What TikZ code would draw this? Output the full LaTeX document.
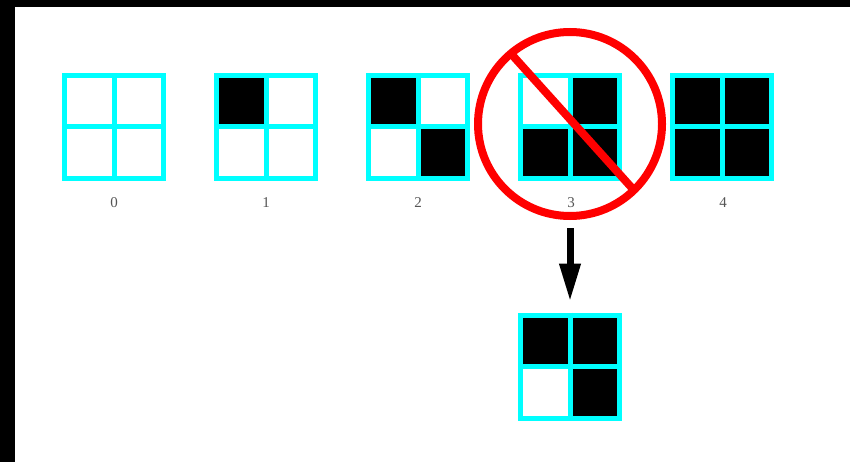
\documentclass[tikz,border=0pt]{standalone}
\usepackage{fontspec}
\setmainfont{Liberation Serif}
\usetikzlibrary{arrows.meta}
\definecolor{gridcyan}{HTML}{00FFFF}
\definecolor{lblgray}{HTML}{555555}
\tikzset{
  frame/.style={draw=gridcyan, line width=5pt, minimum width=99pt, minimum height=103pt, inner sep=0pt},
  midline/.style={draw=gridcyan, line width=5pt},
  cellfill/.style={fill=black},
  lbl/.style={text=lblgray, font=\fontsize{15}{15}\selectfont, inner sep=0pt},
  nosign/.style={circle, draw=red, line width=8pt, minimum size=184pt, outer sep=0pt, inner sep=0pt},
  slash/.style={draw=red, line width=8pt},
  downarrow/.style={draw=black, line width=7pt, -{Triangle[width=20pt,length=38pt]}, shorten <=12pt, shorten >=11pt},
}
\newcommand\mygrid[7]{%
  \begin{scope}[shift={(#2,#3)}]
    \ifnum#4=1 \fill[cellfill] (-49.5,-51.5) rectangle (0,0);\fi
    \ifnum#5=1 \fill[cellfill] (0,-51.5) rectangle (49.5,0);\fi
    \ifnum#6=1 \fill[cellfill] (-49.5,0) rectangle (0,51.5);\fi
    \ifnum#7=1 \fill[cellfill] (0,0) rectangle (49.5,51.5);\fi
  \end{scope}
  \node[frame] (#1) at (#2,#3) {};
  \draw[midline] (#1.north) -- (#1.south) (#1.west) -- (#1.east);
}
\begin{document}
\begin{tikzpicture}[x=1pt,y=-1pt]
  \useasboundingbox (0,0) rectangle (850,462);
  \fill[black] (0,0) rectangle (850,462);
  \fill[white] (15,7) rectangle (850,462);
  \mygrid{g0}{114}{127}{0}{0}{0}{0}
  \mygrid{g1}{266}{127}{1}{0}{0}{0}
  \mygrid{g2}{418}{127}{1}{0}{0}{1}
  \mygrid{g3}{570}{127}{0}{1}{1}{1}
  \mygrid{g4}{722}{127}{1}{1}{1}{1}
  \mygrid{g5}{570}{366.5}{1}{1}{0}{1}
  \node[lbl] (l0) at (114,203) {0};
  \node[lbl] (l1) at (266,203) {1};
  \node[lbl] (l2) at (418,203) {2};
  \node[lbl] (l3) at (571,203) {3};
  \node[lbl] (l4) at (723,203) {4};
  \node[nosign] (no) at (570,124) {};
  \draw[slash] (no.130) -- (no.-46);
  \draw[downarrow] (no.south) -- (g5.north);
\end{tikzpicture}
\end{document}
